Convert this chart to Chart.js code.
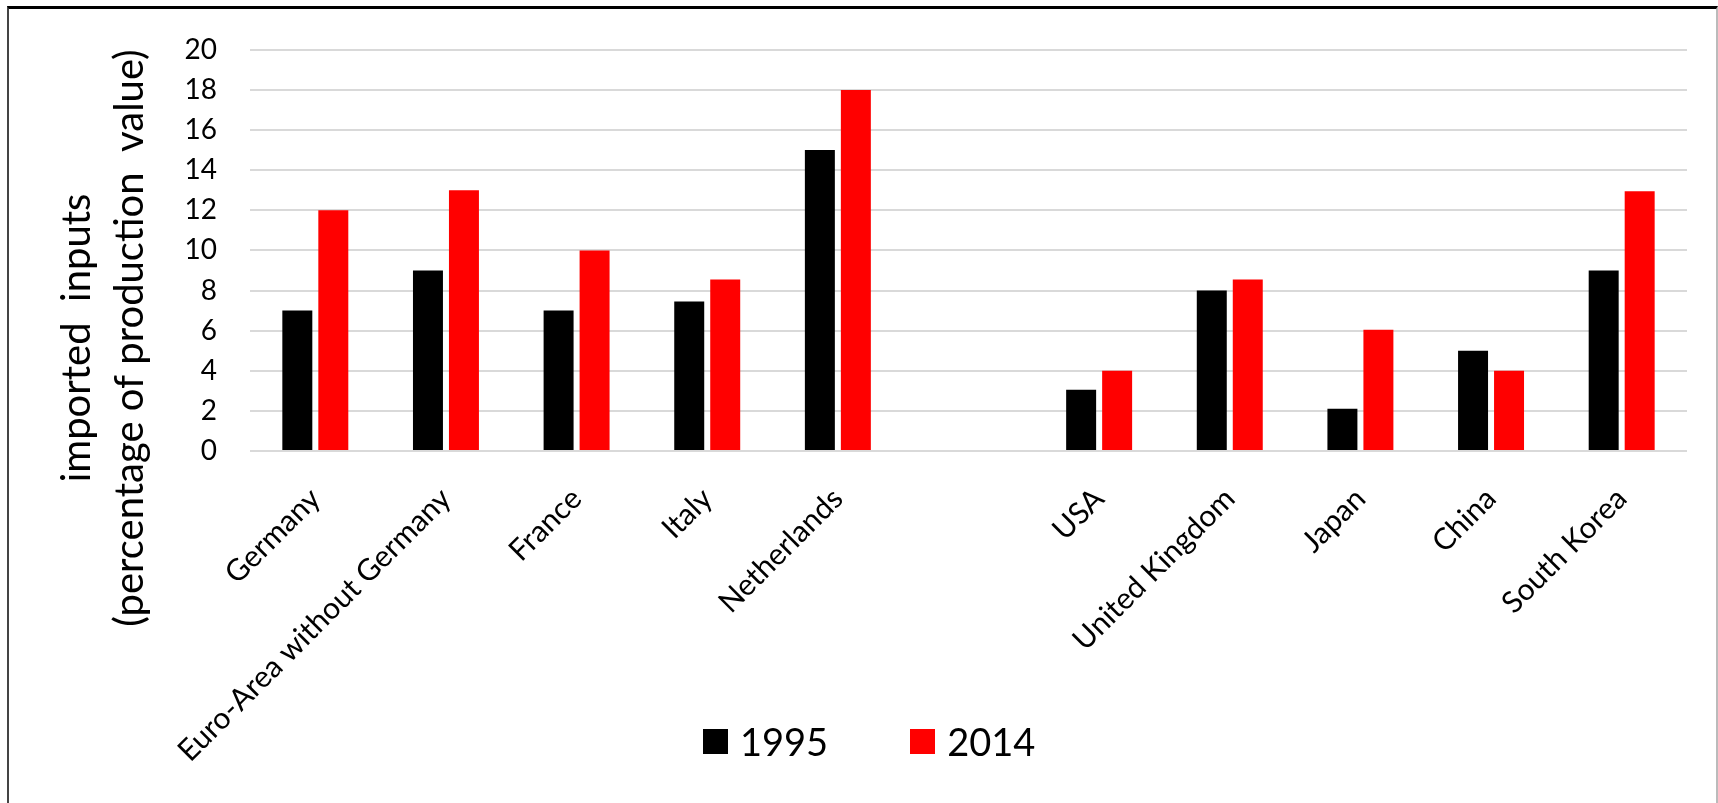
<!DOCTYPE html>
<html lang="en">
<head>
    <meta charset="UTF-8">
    <title>Imported inputs</title>
    <script src="https://cdn.jsdelivr.net/npm/chart.js"></script>
    <style>
        body {
            margin: 0;
            padding: 0;
            background: #fff;
            font-family: 'Lato', sans-serif;
        }

        .wrap {
            position: relative;
            width: 1718px;
            height: 803px;
            overflow: hidden;
        }

        .frame {
            position: absolute;
            left: 7px;
            top: 6px;
            width: 1707px;
            height: 794px;
            border-top: 3px solid #000;
            border-left: 2px solid #444;
            border-right: 2px solid #bbb;
            border-bottom: 2px solid #ccc;
            pointer-events: none;
        }

        .legend {
            position: absolute;
            left: 703px;
            top: 718px;
            display: flex;
            align-items: center;
            gap: 82px;
            font-size: 38px;
            color: #000;
        }

        .legend span.item {
            display: flex;
            align-items: center;
            gap: 12px;
        }

        .legend i {
            display: inline-block;
            width: 25px;
            height: 25px;
        }
    </style>
</head>
<body>
    <div class="wrap">
        <canvas id="barChart"></canvas>
        <div class="frame"></div>
        <div class="legend" id="legend"></div>
    </div>

    <script>
        const categories = ['Germany', 'Euro-Area without Germany', 'France', 'Italy', 'Netherlands', '',
            'USA', 'United Kingdom', 'Japan', 'China', 'South Korea'];
        const values1995 = [7, 9, 7, 7.45, 15, null, 3.05, 8, 2.1, 5, 9];
        const values2014 = [12, 13, 10, 8.55, 18, null, 4, 8.55, 6.05, 4, 12.95];
        const seriesNames = ['1995', '2014'];
        const seriesColors = ['#000000', '#ff0000'];
        const yMin = 0, yMax = 20, yStep = 2;
        const yTitleLines = ['imported  inputs', '(percentage of production  value)'];

        // y axis title sits off-centre in the original, so it is drawn by hand
        const yTitlePlugin = {
            id: 'yTitle',
            afterDraw(chart) {
                const c = chart.ctx;
                c.save();
                c.fillStyle = '#000';
                c.font = '40px Lato';
                c.textAlign = 'center';
                c.textBaseline = 'alphabetic';
                [90, 143].forEach((x, i) => {
                    c.save();
                    c.translate(x, 338);
                    c.rotate(-Math.PI / 2);
                    c.fillText(yTitleLines[i], 0, 0);
                    c.restore();
                });
                c.restore();
            }
        };

        const ctx = document.getElementById('barChart').getContext('2d');
        const chart = new Chart(ctx, {
            type: 'bar',
            data: {
                labels: categories,
                datasets: [
                    { label: seriesNames[0], data: values1995, backgroundColor: seriesColors[0] },
                    { label: seriesNames[1], data: values2014, backgroundColor: seriesColors[1] }
                ]
            },
            options: {
                responsive: true,
                maintainAspectRatio: false,
                animation: false,
                categoryPercentage: 0.551,
                barPercentage: 0.833,
                layout: { padding: { top: 49, right: 31, left: 0, bottom: 0 } },
                plugins: {
                    legend: { display: false },
                    tooltip: { enabled: false }
                },
                scales: {
                    x: {
                        grid: { display: false },
                        border: { display: false },
                        ticks: {
                            color: '#000',
                            font: { family: 'Lato', size: 30 },
                            autoSkip: false,
                            minRotation: 45,
                            maxRotation: 45,
                            padding: 22
                        },
                        afterFit: s => { s.height = 352; }
                    },
                    y: {
                        min: yMin,
                        max: yMax,
                        border: { display: false },
                        grid: { color: '#d9d9d9', lineWidth: 2, drawTicks: false },
                        ticks: {
                            stepSize: yStep,
                            color: '#000',
                            font: { family: 'Lato', size: 28 },
                            padding: 33
                        },
                        afterFit: s => { s.width = 250; }
                    }
                }
            },
            plugins: [yTitlePlugin]
        });

        // html legend
        const legend = document.getElementById('legend');
        seriesNames.forEach((name, i) => {
            const item = document.createElement('span');
            item.className = 'item';
            item.innerHTML = `<i style="background:${seriesColors[i]}"></i>${name}`;
            legend.appendChild(item);
        });
    </script>
</body>
</html>
